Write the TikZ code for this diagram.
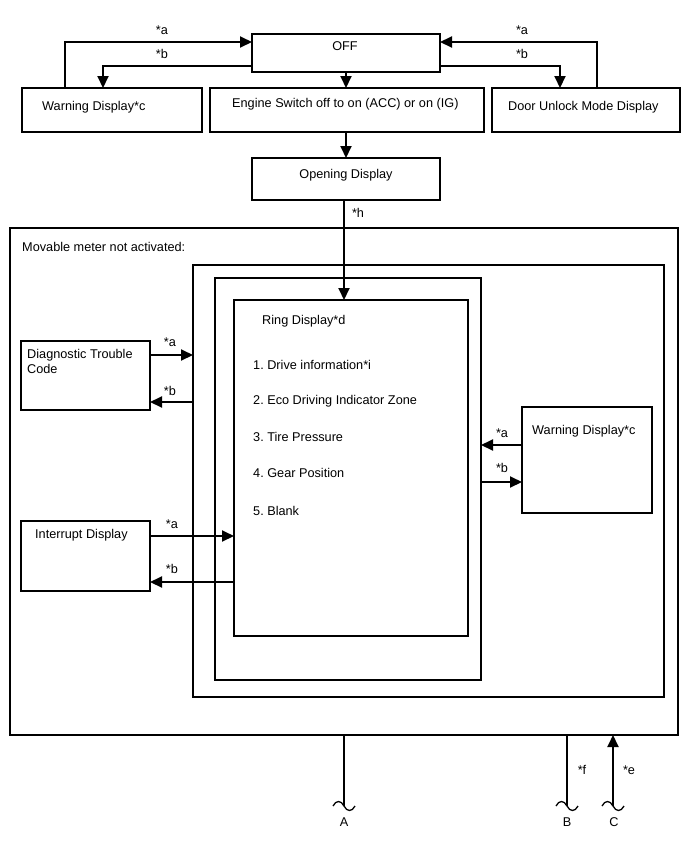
\documentclass[tikz,border=0pt]{standalone}
\usepackage{fontspec}
\setmainfont{Liberation Sans}
\frenchspacing
\usetikzlibrary{arrows.meta,calc}

\begin{document}
\begin{tikzpicture}[x=1pt, y=-1pt,
    box/.style={draw, line width=1.2pt, outer sep=0pt, inner sep=0pt},
    txt/.style={anchor=west, inner sep=0pt, font=\fontsize{12.7}{15}\selectfont, align=left},
    ctxt/.style={inner sep=0pt, font=\fontsize{12.7}{15}\selectfont},
    arr/.style={-{Triangle[length=12pt,width=11pt]}, line width=2pt},
    ln/.style={line width=2pt}
]
\useasboundingbox (0,0) rectangle (688,852);

% boxes
\node[box, minimum width=188pt, minimum height=38pt] (off) at (346,53) {};
\node[box, minimum width=180pt, minimum height=44pt] (warnL) at (112,110) {};
\node[box, minimum width=274pt, minimum height=44pt] (engine) at (347,110) {};
\node[box, minimum width=188pt, minimum height=44pt] (door) at (586,110) {};
\node[box, minimum width=188pt, minimum height=42pt] (opening) at (346,179) {};
\node[box, minimum width=668pt, minimum height=507pt] (outer) at (344,481.5) {};
\node[box, minimum width=471pt, minimum height=432pt] (mid) at (428.5,481) {};
\node[box, minimum width=266pt, minimum height=402pt] (inner) at (348,479) {};
\node[box, minimum width=234pt, minimum height=336pt] (ring) at (351,468) {};
\node[box, minimum width=129pt, minimum height=69pt] (dtc) at (85.5,375.5) {};
\node[box, minimum width=129pt, minimum height=70pt] (intr) at (85.5,556) {};
\node[box, minimum width=130pt, minimum height=106pt] (warnR) at (587,460) {};

% texts
\node[ctxt] (offT) at (345,46) {OFF};
\node[txt] (warnLT) at (42,107) {Warning Display*c};
\node[txt] (engineT) at (232,104) {Engine Switch off to on (ACC) or on (IG)};
\node[txt] (doorT) at (508,107) {Door Unlock Mode Display};
\node[ctxt] (openingT) at (346,175) {Opening Display};
\node[txt] (movT) at (22,247) {Movable meter not activated:};
\node[txt] (ringT) at (262,321) {Ring Display*d};
\node[txt] (item1) at (253,365) {1. Drive information*i};
\node[txt] (item2) at (253,401) {2. Eco Driving Indicator Zone};
\node[txt] (item3) at (253,437) {3. Tire Pressure};
\node[txt] (item4) at (253,473) {4. Gear Position};
\node[txt] (item5) at (253,511) {5. Blank};
\node[txt] (dtcT) at (27,361) {Diagnostic Trouble\\Code};
\node[txt] (intrT) at (35,535) {Interrupt Display};
\node[txt] (warnRT) at (532,431) {Warning Display*c};

% state labels
\node[ctxt] (la1) at (162,30) {*a};
\node[ctxt] (lb1) at (162,54) {*b};
\node[ctxt] (la2) at (522,30) {*a};
\node[ctxt] (lb2) at (522,54) {*b};
\node[ctxt] (lh) at (358,213) {*h};
\node[ctxt] (la3) at (170,342) {*a};
\node[ctxt] (lb3) at (170,391) {*b};
\node[ctxt] (la4) at (172,524) {*a};
\node[ctxt] (lb4) at (172,569) {*b};
\node[ctxt] (la5) at (502,433) {*a};
\node[ctxt] (lb5) at (502,468) {*b};
\node[ctxt] (lf) at (582,770) {*f};
\node[ctxt] (le) at (629,770) {*e};

% break ends
\coordinate (endA) at (344,806);
\coordinate (endB) at (567,806);
\coordinate (endC) at (613,806);
\node[ctxt] (labA) at (344,822) {A};
\node[ctxt] (labB) at (567,822) {B};
\node[ctxt] (labC) at (614,822) {C};

% arrows
\draw[arr] ([xshift=43pt]warnL.north west) |- ([yshift=11pt]off.west);
\draw[arr] ([yshift=-13pt]off.west) -| ([xshift=81pt]warnL.north west);
\draw[arr] ([xshift=-83pt]door.north east) |- ([yshift=11pt]off.east);
\draw[arr] ([yshift=-13pt]off.east) -| ([xshift=68pt]door.north west);
\draw[arr] (off.south) -- (off.south |- engine.north);
\draw[arr] (off.south |- engine.south) -- (opening.north);
\draw[arr] ([xshift=-2pt]opening.south) -- ([xshift=-2pt]opening.south |- ring.north);

\draw[arr] ([yshift=-14pt]dtc.north east) -- ([yshift=-14pt]dtc.north east -| mid.west);
\draw[arr] ([yshift=8pt]dtc.south east -| mid.west) -- ([yshift=8pt]dtc.south east);
\draw[arr] ([yshift=-15pt]intr.north east) -- ([yshift=-15pt]intr.north east -| ring.west);
\draw[arr] ([yshift=9pt]intr.south east -| ring.west) -- ([yshift=9pt]intr.south east);
\draw[arr] ([yshift=-38pt]warnR.north west) -- ([yshift=-38pt]warnR.north west -| inner.east);
\draw[arr] ([yshift=31pt]warnR.south west -| inner.east) -- ([yshift=31pt]warnR.south west);

\draw[ln] (endA |- outer.south) -- (endA);
\draw[ln] (endB |- outer.south) -- (endB);
\draw[arr] (endC) -- (endC |- outer.south);
\foreach \p in {endA,endB,endC}
  \draw[line width=1.3pt] ([xshift=-11pt]\p) .. controls +(3,-6) and +(-3,-6) .. (\p)
    .. controls +(3,6) and +(-3,6) .. ([xshift=11pt]\p);
\end{tikzpicture}
\end{document}
